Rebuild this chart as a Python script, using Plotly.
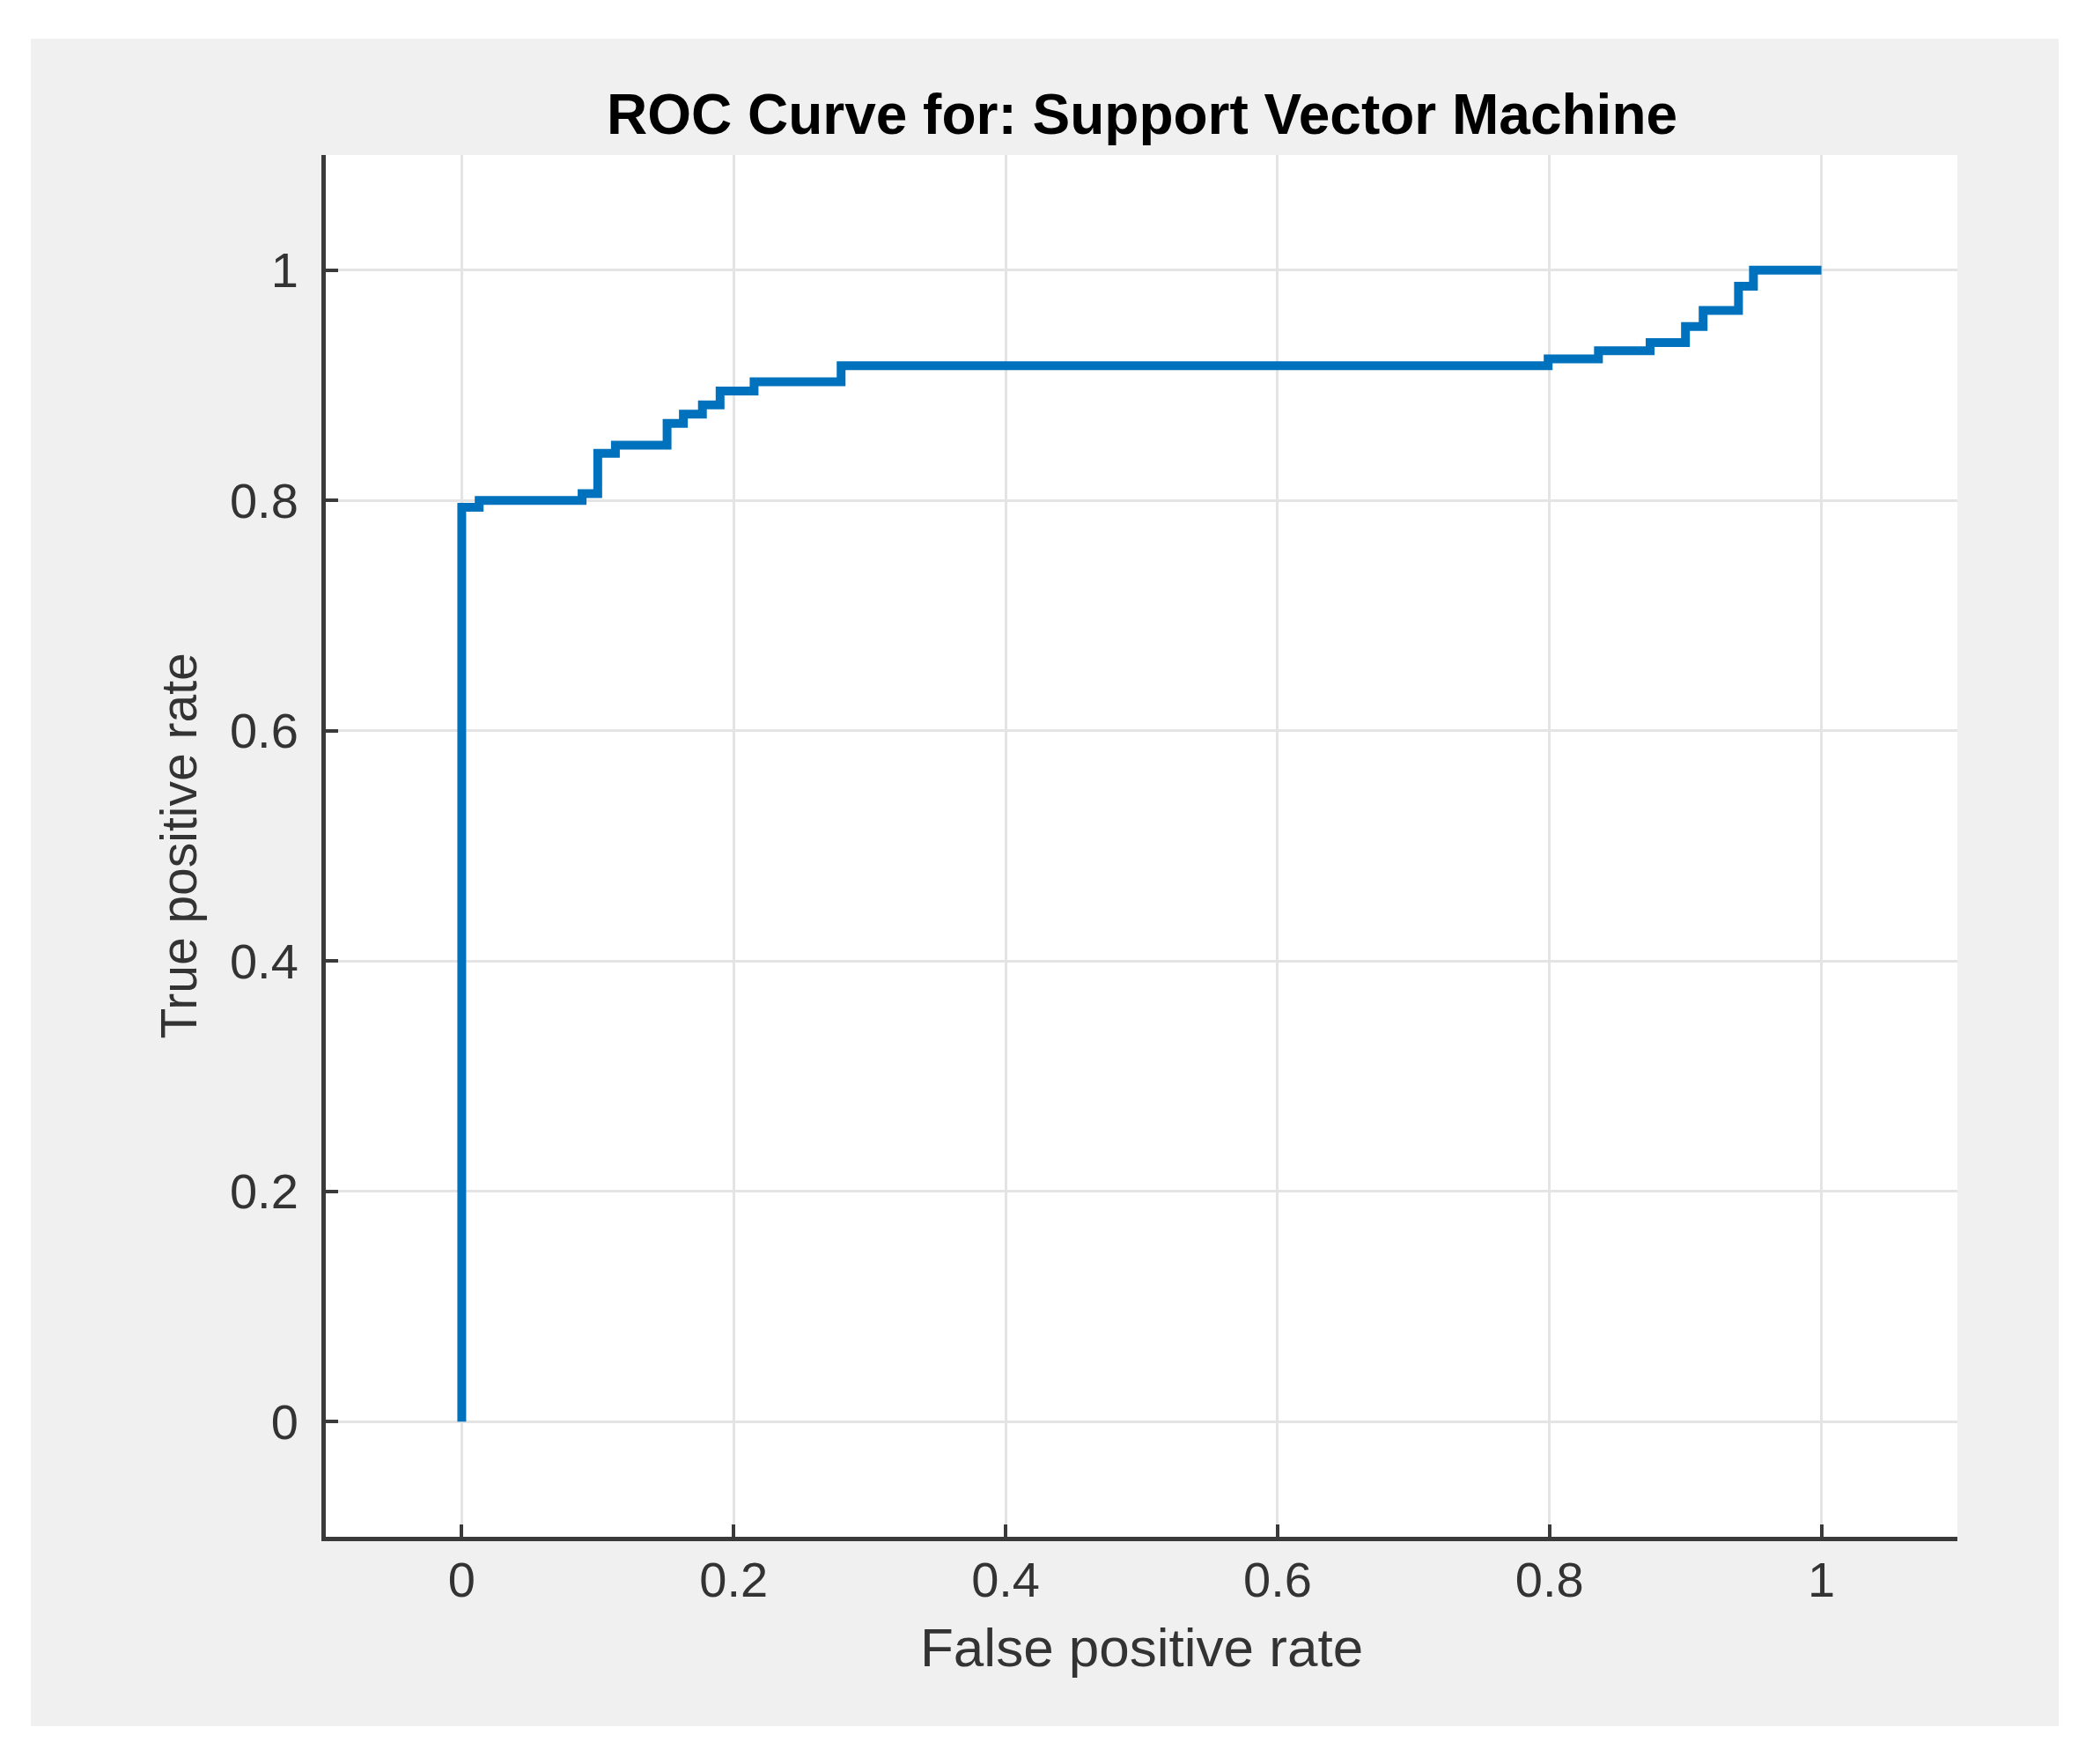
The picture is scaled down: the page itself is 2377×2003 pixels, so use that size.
import plotly.graph_objects as go

# ROC curve corner points (staircase, drawn with hv shape)
fpr = [0.0, 0.0, 0.0128, 0.0885, 0.100, 0.113, 0.151, 0.163, 0.177, 0.190,
       0.215, 0.279, 0.799, 0.836, 0.874, 0.900, 0.913, 0.939, 0.950, 1.0]
tpr = [0.0, 0.794, 0.800, 0.806, 0.841, 0.848, 0.867, 0.875, 0.883, 0.895,
       0.903, 0.917, 0.923, 0.930, 0.937, 0.951, 0.965, 0.986, 1.0, 1.0]

tick_vals = [0, 0.2, 0.4, 0.6, 0.8, 1]
tick_text = ["0", "0.2", "0.4", "0.6", "0.8", "1"]

title_text = "ROC Curve for: Support Vector Machine"
x_title = "False positive rate"
y_title = "True positive rate"

W, H = 2377, 2003
L, R, T, B = 362, 162, 168, 266
pw, ph = W - L - R, H - T - B

def px_to_paper_x(px):
    return (px - L) / pw

def px_to_paper_y(py):
    return (H - B - py) / ph

FONT = "Liberation Sans, Arial, sans-serif"
AX = "#3a3a3a"

fig = go.Figure()
fig.add_trace(go.Scatter(
    x=fpr, y=tpr, mode="lines", line=dict(color="#0072BD", width=10, shape="hv"),
    showlegend=False, hoverinfo="skip"))

axis_common = dict(
    range=[-0.1, 1.1], tickvals=tick_vals, ticktext=tick_text,
    showline=True, linecolor=AX, linewidth=5, mirror=False,
    ticks="inside", ticklen=14, tickwidth=4, tickcolor=AX,
    showgrid=True, gridcolor="#e4e4e4", gridwidth=3, zeroline=False,
    tickfont=dict(family=FONT, size=56, color="#333333"),
    fixedrange=True,
)

fig.update_layout(
    width=W, height=H,
    margin=dict(l=L, r=R, t=T, b=B, pad=0),
    paper_bgcolor="white", plot_bgcolor="white",
    xaxis=dict(**axis_common, ticklabelstandoff=-4),
    yaxis=dict(**axis_common, ticklabelstandoff=15),
    title=dict(text="<b>" + title_text + "</b>", x=px_to_paper_x(1289), xref="paper",
               xanchor="center", y=1 - 122 / H, yanchor="middle",
               font=dict(family=FONT, size=64, color="#000000")),
    shapes=[
        dict(type="rect", xref="paper", yref="paper", layer="below",
             x0=px_to_paper_x(27), x1=px_to_paper_x(2330),
             y0=px_to_paper_y(1952), y1=px_to_paper_y(36),
             fillcolor="#f0f0f0", line=dict(width=0)),
        dict(type="rect", xref="paper", yref="paper", layer="below",
             x0=0, x1=1, y0=0, y1=1,
             fillcolor="white", line=dict(width=0)),
    ],
    annotations=[
        dict(text=x_title, xref="paper", yref="paper", x=0.5,
             y=px_to_paper_y(1862), xanchor="center", yanchor="middle",
             showarrow=False, font=dict(family=FONT, size=62, color="#333333")),
        dict(text=y_title, xref="paper", yref="paper", x=px_to_paper_x(194),
             y=0.5, xanchor="center", yanchor="middle", textangle=-90,
             showarrow=False, font=dict(family=FONT, size=57, color="#333333")),
    ],
)

fig.write_html("out.html")
